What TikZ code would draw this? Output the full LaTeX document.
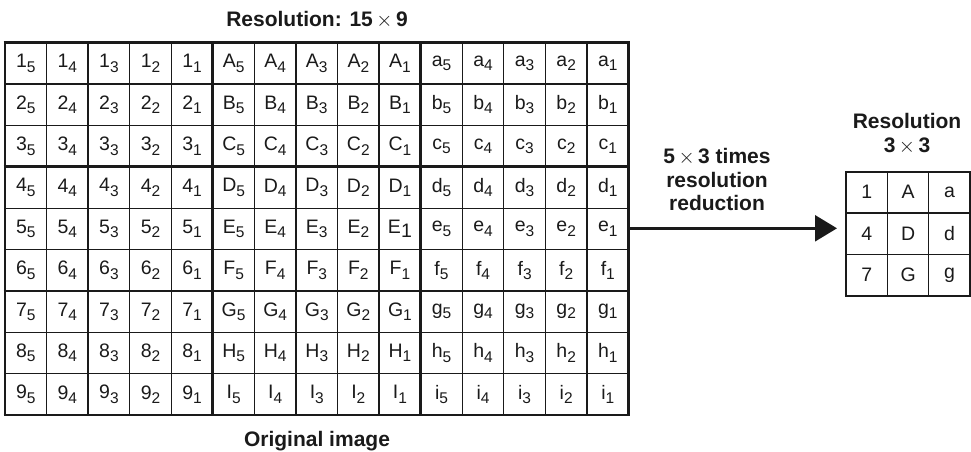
\documentclass[tikz,border=0pt]{standalone}
\usepackage{fontspec}
\setmainfont{Liberation Sans}
\usepackage{tikz}
\usetikzlibrary{arrows.meta,positioning}
\definecolor{ink}{HTML}{1A1A1A}
\newcommand{\sub}[1]{\raisebox{-4.3pt}{\fontsize{15.5}{15.5}\selectfont #1}}
\newcommand{\fullsub}[1]{\raisebox{-4.3pt}{#1}}
\tikzset{
  cell/.style={inner sep=0pt, font=\fontsize{19.5}{19.5}\selectfont, text=ink},
  thin/.style={draw=ink, line width=1.3pt},
  fat/.style={draw=ink, line width=2.8pt},
  ttl/.style={inner sep=0pt, align=center, font=\fontsize{21}{23.5}\selectfont\bfseries, text=ink},
  arr/.style={-{Triangle[length=22pt, width=26pt]}, line width=2.4pt, draw=ink},
}

\begin{document}
\begin{tikzpicture}[x=1pt, y=-1pt]
  \useasboundingbox (0,0) rectangle (971,452);
  \def\cw{41.57}
  \def\ch{41.37}
  % original 15 x 9 image
  \foreach \i in {1,...,14} { \draw[thin] ({5+\i*\cw},42.7) -- ++(0,9*\ch); }
  \foreach \i in {1,...,8} { \draw[thin] (5,{42.7+\i*\ch}) -- ++(15*\cw,0); }
  \foreach \i in {0,5,10,15} { \draw[fat] ({5+\i*\cw},42.7) -- ++(0,9*\ch); }
  \foreach \i in {0,3,6,9} { \draw[fat] (3.6,{42.7+\i*\ch}) -- ++(15*\cw+2.8,0); }
  \foreach \r/\U/\l in {1/A/a,2/B/b,3/C/c,4/D/d,5/E/e,6/F/f,7/G/g,8/H/h,9/I/i} {
    \foreach \j in {0,...,4} {
      \pgfmathtruncatemacro{\s}{5-\j}
      \node[cell] (p\r-\j) at ({5+(\j+0.5)*\cw},{42.7+(\r-0.5)*\ch}) {\r\sub{\s}};
      \node[cell] (q\r-\j) at ({5+(\j+5.5)*\cw},{42.7+(\r-0.5)*\ch})
        {\U\ifnum\r\s=51 \fullsub{\s}\else\sub{\s}\fi};
      \node[cell] (w\r-\j) at ({5+(\j+10.5)*\cw},{42.7+(\r-0.5)*\ch}) {\l\sub{\s}};
    }
  }
  \node[ttl, anchor=base] (title) at (317,26.7) {Resolution: 15\,$\times$\,9};
  \node[ttl, anchor=base] (orig) at (317,446.7) {Original image};

  % reduced 3 x 3 image
  \foreach \i in {1,2} {
    \draw[thin] ({846+\i*41.4},171.5) -- ++(0,124.2);
    \draw[thin] (846,{171.5+\i*41.4}) -- ++(124.2,0);
  }
  \draw[draw=ink, line width=2pt] (846,171.5) rectangle ++(124.2,124.2);
  \foreach \r/\a/\b/\c in {1/1/A/a,2/4/D/d,3/7/G/g} {
    \node[cell] (s\r-1) at (866.7,{171.5+(\r-0.5)*41.4}) {\a};
    \node[cell] (s\r-2) at (908.1,{171.5+(\r-0.5)*41.4}) {\b};
    \node[cell] (s\r-3) at (949.5,{171.5+(\r-0.5)*41.4}) {\c};
  }
  \node[ttl] (small) at (907,134) {Resolution\\3\,$\times$\,3};

  % reduction arrow
  \coordinate (bigE) at (629,228.3);
  \coordinate (smallW) at (846,228.3);
  \draw[arr, shorten >=9pt] (bigE) -- (smallW);
  \node[ttl] (how) at (717,179.5) {5\,$\times$\,3 times\\resolution\\reduction};
\end{tikzpicture}
\end{document}
